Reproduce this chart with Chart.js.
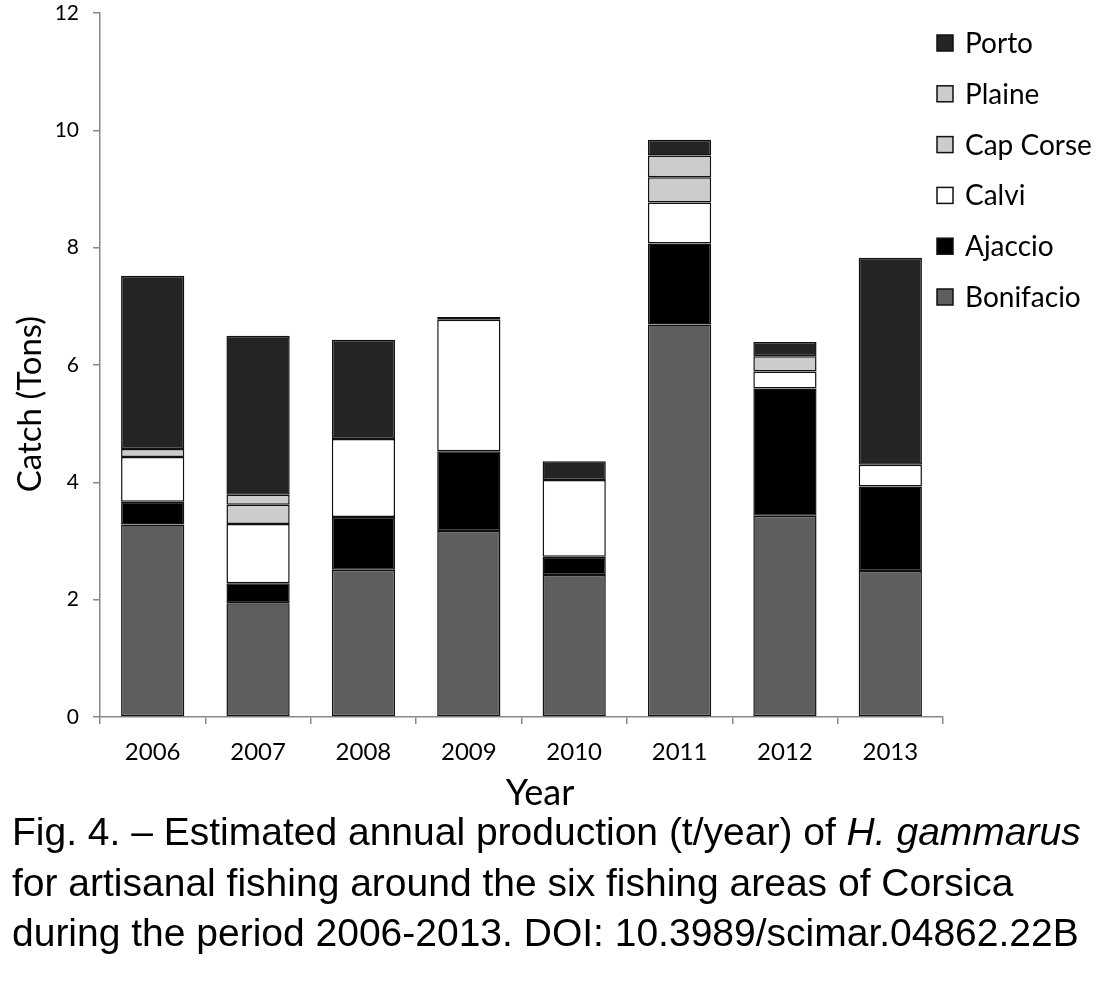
<!DOCTYPE html>
<html>
<head>
<meta charset="utf-8">
<script src="https://cdn.jsdelivr.net/npm/chart.js@4.4.0/dist/chart.umd.min.js"></script>
<style>
  html, body { margin: 0; padding: 0; background: #fff; }
  #wrap { position: relative; width: 1102px; height: 812px; }
  #caption { position: absolute; left: 12px; top: 807px; width: 1095px; white-space: nowrap; font-family: "Liberation Sans", Arial, sans-serif; font-size: 39px; line-height: 50.5px; color: #000; }
</style>
</head>
<body>
<div id="wrap"><canvas id="c" width="1102" height="812"></canvas></div>
<div id="caption">Fig. 4. – Estimated annual production (t/year) of <i>H. gammarus</i><br>for artisanal fishing around the six fishing areas of Corsica<br>during the period 2006-2013. DOI: 10.3989/scimar.04862.22B</div>
<script>
const years = ["2006", "2007", "2008", "2009", "2010", "2011", "2012", "2013"];
const bonifacio = [3.28, 1.94, 2.51, 3.17, 2.42, 6.69, 3.43, 2.49];
const ajaccio   = [0.39, 0.34, 0.90, 1.36, 0.31, 1.38, 2.17, 1.44];
const calvi     = [0.76, 1.01, 1.33, 2.24, 1.31, 0.70, 0.29, 0.37];
const capCorse  = [0.14, 0.33, 0.00, 0.05, 0.00, 0.43, 0.26, 0.00];
const plaine    = [0.00, 0.17, 0.00, 0.00, 0.00, 0.37, 0.00, 0.00];
const porto     = [2.95, 2.71, 1.69, 0.00, 0.32, 0.27, 0.24, 3.53];
const yMin = 0, yMax = 12, yStep = 2;
const xTitle = "Year";
const yTitle = "Catch (Tons)";

const FONT = "Lato, 'Open Sans', sans-serif";

const mk = (label, data, color) => ({
  label, data, backgroundColor: color, borderColor: '#111', borderWidth: 1.5,
  borderSkipped: false, categoryPercentage: 1.0, barPercentage: 0.6
});

const decorPlugin = {
  id: 'decor',
  afterDraw(chart) {
    const ctx = chart.ctx;
    const ds = chart.data.datasets.slice().reverse();
    ctx.save();
    // legend
    ctx.font = "28px " + FONT;
    ctx.textBaseline = 'middle';
    ctx.textAlign = 'left';
    ds.forEach((d, i) => {
      const y = 43 + i * 50.8;
      ctx.fillStyle = d.backgroundColor;
      ctx.fillRect(937, y - 8, 16, 16);
      ctx.strokeStyle = '#111';
      ctx.lineWidth = 1.5;
      ctx.strokeRect(937, y - 8, 16, 16);
      ctx.fillStyle = '#000';
      ctx.fillText(d.label, 965, y + 1);
    });
    // axis titles
    ctx.fillStyle = '#000';
    ctx.textAlign = 'center';
    ctx.font = "36px " + FONT;
    ctx.fillText(xTitle, 540, 793);
    ctx.translate(30, 404);
    ctx.rotate(-Math.PI / 2);
    ctx.font = "33px " + FONT;
    ctx.fillText(yTitle, 0, 0);
    ctx.restore();
  }
};

new Chart(document.getElementById('c'), {
  type: 'bar',
  data: {
    labels: years,
    datasets: [
      mk('Bonifacio', bonifacio, '#5e5e5e'),
      mk('Ajaccio', ajaccio, '#000000'),
      mk('Calvi', calvi, '#ffffff'),
      mk('Cap Corse', capCorse, '#cccccc'),
      mk('Plaine', plaine, '#cccccc'),
      mk('Porto', porto, '#242424')
    ]
  },
  options: {
    responsive: false,
    animation: false,
    devicePixelRatio: 1,
    layout: { padding: { left: 0, right: 159, top: 13, bottom: 0 } },
    plugins: { legend: { display: false }, tooltip: { enabled: false } },
    scales: {
      x: {
        stacked: true,
        offset: true,
        grid: { display: true, offset: true, drawOnChartArea: false, drawTicks: true, tickLength: 7, color: '#888', lineWidth: 1.5 },
        border: { display: true, color: '#888', width: 1.5 },
        ticks: { color: '#000', font: { family: FONT, size: 24 }, padding: 14 },
        afterFit(s) { s.height = 95; s.paddingLeft = 0; s.paddingRight = 0; }
      },
      y: {
        stacked: true,
        min: yMin, max: yMax,
        grid: { display: true, drawOnChartArea: false, drawTicks: true, tickLength: 7, color: '#888', lineWidth: 1.5 },
        border: { display: true, color: '#888', width: 1.5 },
        ticks: { stepSize: yStep, color: '#000', font: { family: FONT, size: 21 }, padding: 14 },
        afterFit(s) { s.width = 100; s.paddingTop = 0; s.paddingBottom = 0; }
      }
    }
  },
  plugins: [decorPlugin]
});
</script>
</body>
</html>
